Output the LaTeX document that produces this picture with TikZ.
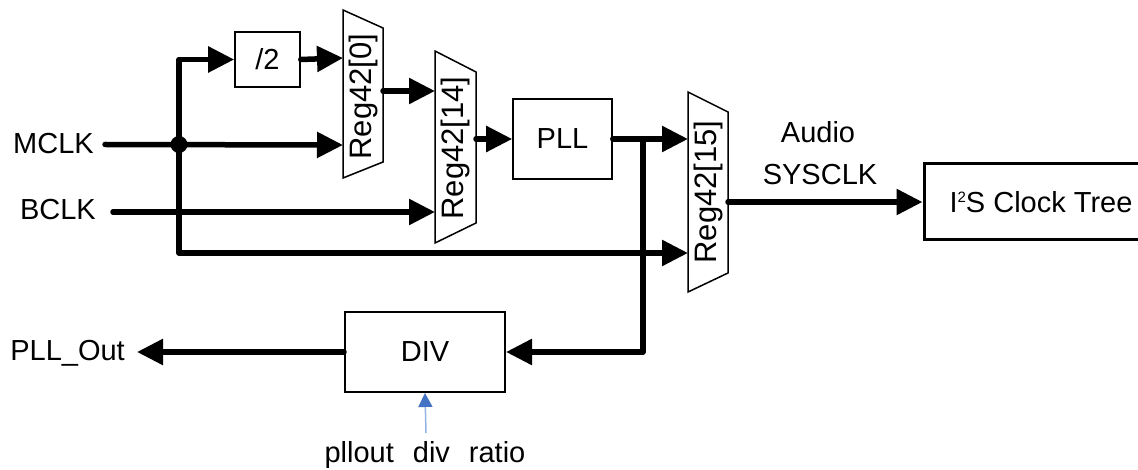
\documentclass[tikz,border=0pt]{standalone}
\usepackage{fontspec}
\setmainfont{Liberation Sans}
\usetikzlibrary{arrows.meta}
\definecolor{tipblue}{RGB}{68,114,196}
\definecolor{lineblue}{RGB}{150,180,225}
\begin{document}
\begin{tikzpicture}[x=1pt,y=-1pt,
  sig/.style={line width=5.5pt, line cap=round, line join=round, -{Triangle[length=26pt,width=25pt]}},
  blk/.style={draw, line width=1.6pt, inner sep=0pt, font=\fontsize{29}{32}\selectfont},
  lbl/.style={inner sep=0pt, font=\fontsize{29}{32}\selectfont},
  muxshape/.style={draw, line width=1.5pt, line join=miter},
  rot/.style={inner sep=0pt, rotate=90, font=\fontsize{31}{34}\selectfont}]
\useasboundingbox (0,0) rectangle (1138,470);
\clip (0,0) rectangle (1138,470);

% blocks
\node[blk, minimum width=65pt, minimum height=55pt] (half) at (267.5,59.5) {/2};
\node[blk, minimum width=99pt, minimum height=80pt] (pll) at (562.5,139) {PLL};
\node[blk, line width=2pt, minimum width=160pt, minimum height=80pt] (div) at (425,352) {DIV};
\node[blk, line width=3pt, minimum width=234pt, minimum height=76pt] (i2s) at (1041,202)
  {I\raisebox{10pt}{\fontsize{15}{15}\selectfont 2}S Clock Tree};

% multiplexers
\draw[muxshape] (343,10) -- (383,28) -- (383,162) -- (343,178) -- cycle;
\node[rot] (m0) at (363,96.5) {Reg42[0]};
\draw[muxshape] (435,51) -- (476,72) -- (476,223) -- (435,243) -- cycle;
\node[rot] (m1) at (455.5,148) {Reg42[14]};
\draw[muxshape] (688,92) -- (728,112) -- (728,273) -- (688,292) -- cycle;
\node[rot] (m2) at (708,192) {Reg42[15]};

\coordinate (m0a) at (343,58);
\coordinate (m0b) at (343,145);
\coordinate (m0o) at (383,91);
\coordinate (m1a) at (435,91);
\coordinate (m1b) at (435,212);
\coordinate (m1o) at (476,139);
\coordinate (m2a) at (688,139);
\coordinate (m2b) at (688,253);
\coordinate (m2o) at (728,202);

% labels
\node[lbl, anchor=east] (mclk) at (94,144) {MCLK};
\node[lbl, anchor=east] (bclk) at (96,210) {BCLK};
\node[lbl, anchor=base east] (pllout) at (125,360) {PLL\_Out};
\node[lbl, anchor=base] (audio) at (818,143) {Audio};
\node[lbl, anchor=base] (sysclk) at (820,185) {SYSCLK};
\node[lbl, anchor=base] (ratio) at (425,462) {pllout\hspace{19pt}div\hspace{19pt}ratio};

\coordinate (mclkS) at (105,144.5);
\coordinate (bclkS) at (113,212);
\coordinate (j) at (179,144.5);
\coordinate (br) at (643,139);
\coordinate (outTip) at (137,352);
\coordinate (ratioTop) at (426,433);

% connectors
\draw[sig] (mclkS) -- (m0b);
\fill (j) circle (8.5pt);
\draw[sig] (j) |- (half.west);
\draw[sig] (j) |- (m2b);
\draw[sig] (half.east) -- (m0a);
\draw[sig] (bclkS) -- (m1b);
\draw[sig] (m0o) -- (m1a);
\draw[sig] (m1o) -- (pll.west);
\draw[sig] (pll.east) -- (m2a);
\draw[sig] (br) |- (div.east);
\draw[sig] (m2o) -- (i2s.west);
\draw[sig] (div.west) -- (outTip);
\draw[draw=lineblue, line width=1.5pt, -{Triangle[length=14pt,width=14pt,color=tipblue]}] (ratioTop) -- (div.south);
\end{tikzpicture}
\end{document}
